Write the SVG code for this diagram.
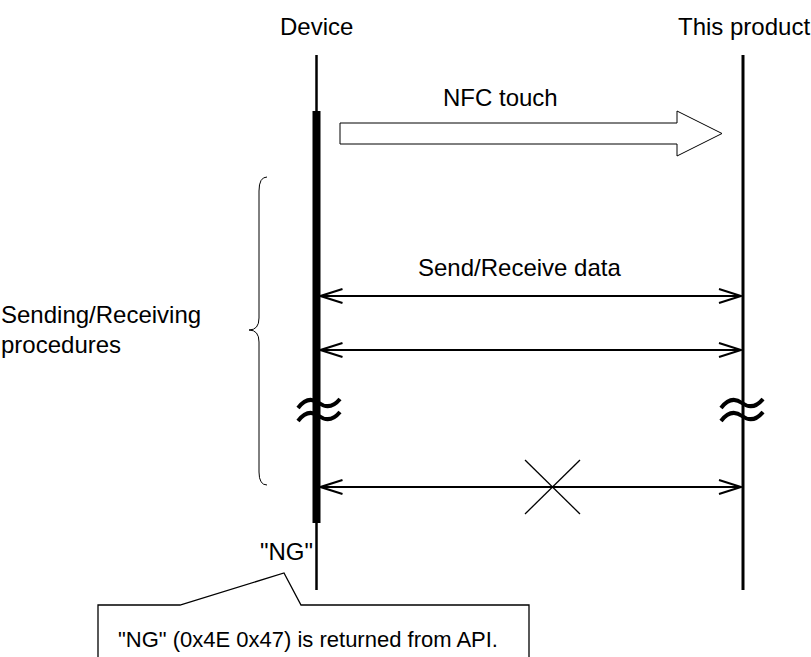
<svg xmlns="http://www.w3.org/2000/svg" width="811" height="657" viewBox="0 0 811 657">
<style>
text{font-family:"Liberation Sans",Arial,sans-serif;font-size:24px;fill:#000}
.ln{stroke:#000;fill:none}
.msg{stroke:#000;stroke-width:2;fill:none;marker-start:url(#ah);marker-end:url(#ah)}
.wave{stroke:#000;stroke-width:4;fill:none;stroke-linecap:butt}
</style>
<defs>
<marker id="ah" viewBox="0 0 24 16" refX="23" refY="8" markerWidth="24" markerHeight="16" markerUnits="userSpaceOnUse" orient="auto-start-reverse">
<path d="M1,1 L23,8 L1,15" fill="none" stroke="#000" stroke-width="2"/>
</marker>
</defs>
<rect width="811" height="657" fill="#fff"/>
<g id="device">
<line class="ln" x1="316.5" y1="55" x2="316.5" y2="590" stroke-width="2.5"/>
<rect x="312.5" y="111" width="8" height="412" fill="#000"/>
<text x="280" y="35">Device</text>
</g>
<g id="product">
<line class="ln" x1="743" y1="55" x2="743" y2="590" stroke-width="3"/>
<text x="678" y="35">This product</text>
</g>
<g id="connectors">
<g id="nfc">
<polygon points="340,123 677,123 677,111 722,133.5 677,156 677,144 340,144" fill="#fff" stroke="#000" stroke-width="1"/>
<text x="443" y="106">NFC touch</text>
</g>
<text x="418" y="276">Send/Receive data</text>
<line class="msg" x1="320.5" y1="296" x2="741" y2="296"/>
<line class="msg" x1="320.5" y1="350" x2="741" y2="350"/>
<line class="msg" x1="320.5" y1="487" x2="741" y2="487"/>
<g id="cross" class="ln" stroke-width="1.3">
<line x1="525" y1="460" x2="580" y2="514"/>
<line x1="580" y1="460" x2="525" y2="514"/>
</g>
</g>
<g id="breaks">
<path class="wave" d="M298,408 Q308,395 319,403 T340,399"/>
<path class="wave" d="M298,421 Q308,408 319,416 T340,412"/>
<path class="wave" d="M721,408 Q731,395 742,403 T763,399"/>
<path class="wave" d="M721,421 Q731,408 742,416 T763,412"/>
</g>
<g id="brace">
<path class="ln" stroke-width="1" d="M267,177 Q259,177 259,191 V318 Q259,330 249,330 Q259,330 259,342 V472 Q259,485 267,485"/>
<text x="1" y="323">Sending/Receiving</text>
<text x="1" y="353">procedures</text>
</g>
<g id="ng">
<text x="260" y="560">"NG"</text>
</g>
<g id="callout">
<path d="M98,660 V605 H180 L284,573 L301,605 H529 V660" fill="#fff" stroke="#000" stroke-width="1.3"/>
<text x="118" y="647" style="font-size:22px">"NG" (0x4E 0x47) is returned from API.</text>
</g>
</svg>
